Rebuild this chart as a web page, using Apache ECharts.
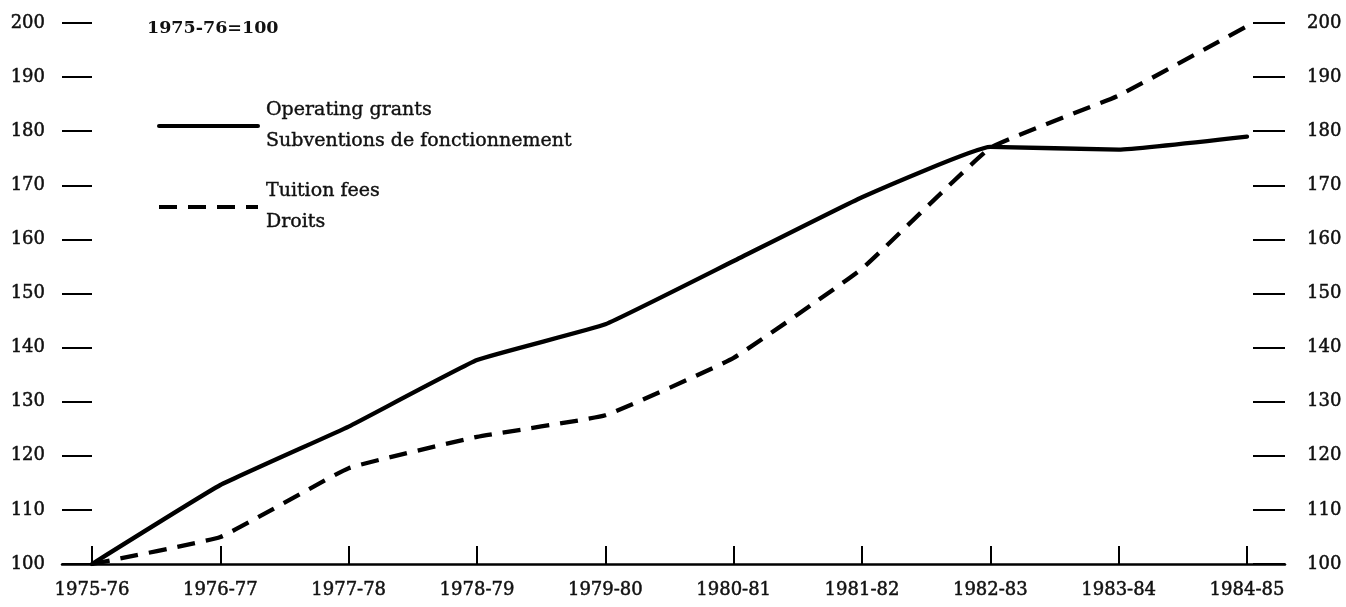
<!DOCTYPE html>
<html>
<head>
<meta charset="utf-8">
<script src="https://cdn.jsdelivr.net/npm/echarts@6/dist/echarts.min.js"></script>
<style>
html,body{margin:0;padding:0;background:#fff;}
#chart{width:1346px;height:607px;}
</style>
</head>
<body>
<div id="chart"></div>
<script>
var categories = ['1975-76','1976-77','1977-78','1978-79','1979-80','1980-81','1981-82','1982-83','1983-84','1984-85'];
var operatingGrants = [100, 114.6, 125.4, 137.7, 144.3, 156.0, 167.8, 177.1, 176.6, 179.0];
var tuitionFees = [100, 105.0, 117.7, 123.5, 127.5, 138.1, 154.6, 176.9, 186.6, 199.4];
var seriesNames = ['Operating grants\nSubventions de fonctionnement', 'Tuition fees\nDroits'];
var titleText = '1975-76=100';
var yMin = 100, yMax = 200, yStep = 10;

var FONT = 'DejaVu Serif';
var INK = '#111';
var thick = {textBorderColor: INK, textBorderWidth: 0.5};
var chart = echarts.init(document.getElementById('chart'));
chart.setOption({
  animation: false,
  backgroundColor: '#fff',
  title: {
    text: titleText, left: 142, top: 14,
    textStyle: {fontFamily: FONT, fontSize: 17.5, fontWeight: 'bold', color: INK}
  },
  legend: {
    orient: 'vertical', left: 157, top: 95, padding: 0,
    itemWidth: 99, itemHeight: 14, itemGap: 19,
    textStyle: {fontFamily: FONT, fontSize: 19, lineHeight: 31, color: INK, padding: [0,0,0,3], textBorderColor: INK, textBorderWidth: 0.4},
    lineStyle: {width: 4},
    itemStyle: {opacity: 0, borderWidth: 0},
    data: seriesNames
  },
  grid: [
    {left: 92, right: 99, top: 23, bottom: 43},
    {left: 62, right: 61, top: 23, bottom: 43}
  ],
  xAxis: [
    {
      type: 'category', gridIndex: 0, data: categories, boundaryGap: false,
      axisLine: {show: false},
      axisTick: {show: true, inside: true, length: 18, lineStyle: {color: '#000', width: 2}},
      axisLabel: Object.assign({fontFamily: FONT, fontSize: 18, color: INK, margin: 17}, thick),
      splitLine: {show: false}
    },
    {
      type: 'value', gridIndex: 1, min: 0, max: 1,
      axisLine: {show: true, lineStyle: {color: '#000', width: 2.5}},
      axisTick: {show: false}, axisLabel: {show: false}, splitLine: {show: false}
    }
  ],
  yAxis: [
    {
      type: 'value', gridIndex: 0, min: yMin, max: yMax, interval: yStep, position: 'left',
      axisLine: {show: false},
      axisTick: {show: true, length: 30, lineStyle: {color: '#000', width: 2}},
      axisLabel: Object.assign({fontFamily: FONT, fontSize: 18, color: INK, margin: 47}, thick),
      splitLine: {show: false}
    },
    {
      type: 'value', gridIndex: 0, min: yMin, max: yMax, interval: yStep, position: 'right', offset: 6,
      axisLine: {show: false},
      axisTick: {show: true, length: 32, lineStyle: {color: '#000', width: 2}},
      axisLabel: Object.assign({fontFamily: FONT, fontSize: 18, color: INK, margin: 54}, thick),
      splitLine: {show: false}
    },
    {
      type: 'value', gridIndex: 1, min: 0, max: 1, show: false
    }
  ],
  series: [
    {
      name: seriesNames[0], type: 'line', xAxisIndex: 0, yAxisIndex: 0,
      data: operatingGrants, symbol: 'none', smooth: 0.1,
      itemStyle: {color: '#000'},
      lineStyle: {color: '#000', width: 4.3, cap: 'round', join: 'round'}
    },
    {
      name: seriesNames[1], type: 'line', xAxisIndex: 0, yAxisIndex: 0,
      data: tuitionFees, symbol: 'none', smooth: 0.1,
      itemStyle: {color: '#000'},
      lineStyle: {color: '#000', width: 4.3, type: [18, 11], join: 'round'}
    }
  ]
});
</script>
</body>
</html>
